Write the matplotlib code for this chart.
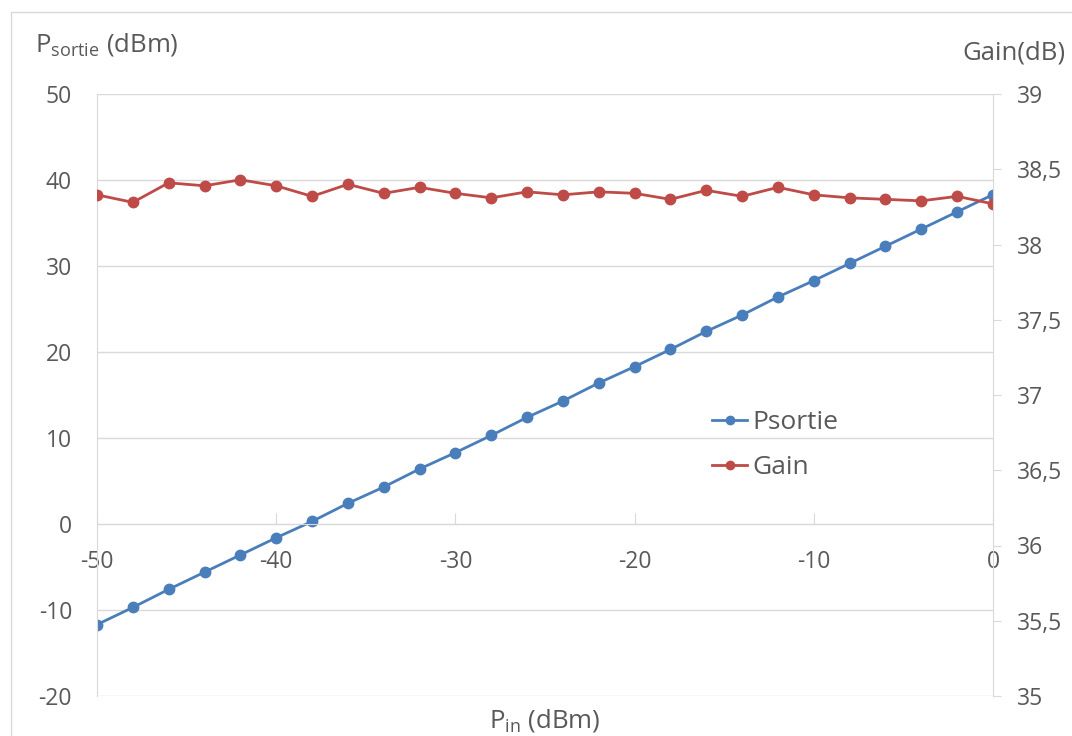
import matplotlib.pyplot as plt
from matplotlib.patches import Rectangle
from matplotlib.ticker import FixedLocator, FixedFormatter

plt.rcParams["font.family"] = ["Open Sans", "DejaVu Sans"]
plt.rcParams["mathtext.fontset"] = "custom"
plt.rcParams["mathtext.rm"] = "Open Sans"
plt.rcParams["mathtext.it"] = "Open Sans"
plt.rcParams["axes.unicode_minus"] = False

# data
p_in = [-50, -48, -46, -44, -42, -40, -38, -36, -34, -32, -30, -28, -26,
        -24, -22, -20, -18, -16, -14, -12, -10, -8, -6, -4, -2, 0]
p_sortie = [-11.7, -9.7, -7.6, -5.6, -3.6, -1.6, 0.3, 2.4, 4.3, 6.4, 8.3, 10.3, 12.4,
            14.3, 16.4, 18.3, 20.3, 22.4, 24.3, 26.4, 28.3, 30.3, 32.3, 34.3, 36.3, 38.3]
gain = [38.33, 38.28, 38.41, 38.39, 38.43, 38.39, 38.32, 38.40, 38.34, 38.38, 38.34, 38.31, 38.35,
        38.33, 38.35, 38.34, 38.30, 38.36, 38.32, 38.38, 38.33, 38.31, 38.30, 38.29, 38.32, 38.27]

left_ticks = [-20, -10, 0, 10, 20, 30, 40, 50]
right_ticks = [35, 35.5, 36, 36.5, 37, 37.5, 38, 38.5, 39]
right_labels = ["35", "35,5", "36", "36,5", "37", "37,5", "38", "38,5", "39"]
x_ticks = [-50, -40, -30, -20, -10, 0]

blue = "#4a7ebb"
red = "#be4b48"
txt = "#595959"
grid = "#d9d9d9"
fs = 16.5
title_fs = 18.5

fig = plt.figure(figsize=(10.72, 7.36), dpi=100)
fig.patches.append(Rectangle((11 / 1072, -0.1), 1.2, 1 - 12 / 736 + 0.1,
                             transform=fig.transFigure, fill=False,
                             edgecolor="#d9d9d9", linewidth=1))

ax1 = fig.add_axes([97 / 1072, 1 - 696 / 736, (993 - 97) / 1072, (696 - 94) / 736])
ax2 = ax1.twinx()

l1, = ax1.plot(p_in, p_sortie, color=blue, lw=2, marker="o", ms=7.5, label="Psortie")
l2, = ax2.plot(p_in, gain, color=red, lw=2, marker="o", ms=7.5, label="Gain")

ax1.set_xlim(-50, 0)
ax1.set_ylim(-20, 50)
ax2.set_ylim(35, 39)
ax1.set_yticks(left_ticks)
ax1.set_xticks(x_ticks)
ax2.yaxis.set_major_locator(FixedLocator(right_ticks))
ax2.yaxis.set_major_formatter(FixedFormatter(right_labels))

ax1.grid(axis="y", color=grid, lw=1)
ax1.set_axisbelow(True)

for ax in (ax1, ax2):
    for s in ax.spines.values():
        s.set_visible(False)
ax1.spines["left"].set_visible(True)
ax1.spines["left"].set_color(grid)
ax1.spines["bottom"].set_visible(True)
ax1.spines["bottom"].set_position(("data", 0))
ax1.spines["bottom"].set_color(grid)
ax2.spines["right"].set_visible(True)
ax2.spines["right"].set_color(grid)

ax1.tick_params(axis="y", length=0, pad=18, labelsize=fs, labelcolor=txt)
ax1.tick_params(axis="x", direction="in", length=8, color=grid, pad=19,
                labelsize=fs, labelcolor=txt)
ax2.tick_params(axis="y", length=6, color=grid, pad=11, labelsize=fs, labelcolor=txt)

fig.text(35 / 1072, 1 - 45 / 736, r"P$_{\mathrm{sortie}}$ (dBm)", fontsize=title_fs,
         color=txt, va="center", ha="left")
fig.text(1066 / 1072, 1 - 53 / 736, "Gain(dB)", fontsize=title_fs, color=txt,
         va="center", ha="right")
fig.text(545 / 1072, 1 - 720 / 736, r"P$_{\mathrm{in}}$ (dBm)", fontsize=title_fs,
         color=txt, va="center", ha="center")

leg = ax2.legend(handles=[l1, l2], loc="upper left", frameon=False,
                 bbox_to_anchor=(688 / 1072, 1 - 386 / 736), bbox_transform=fig.transFigure,
                 fontsize=19, handlelength=1.35, handletextpad=0.2, labelspacing=0.78,
                 markerscale=0.8)
for t in leg.get_texts():
    t.set_color(txt)

fig.savefig("out.png", dpi=100)
